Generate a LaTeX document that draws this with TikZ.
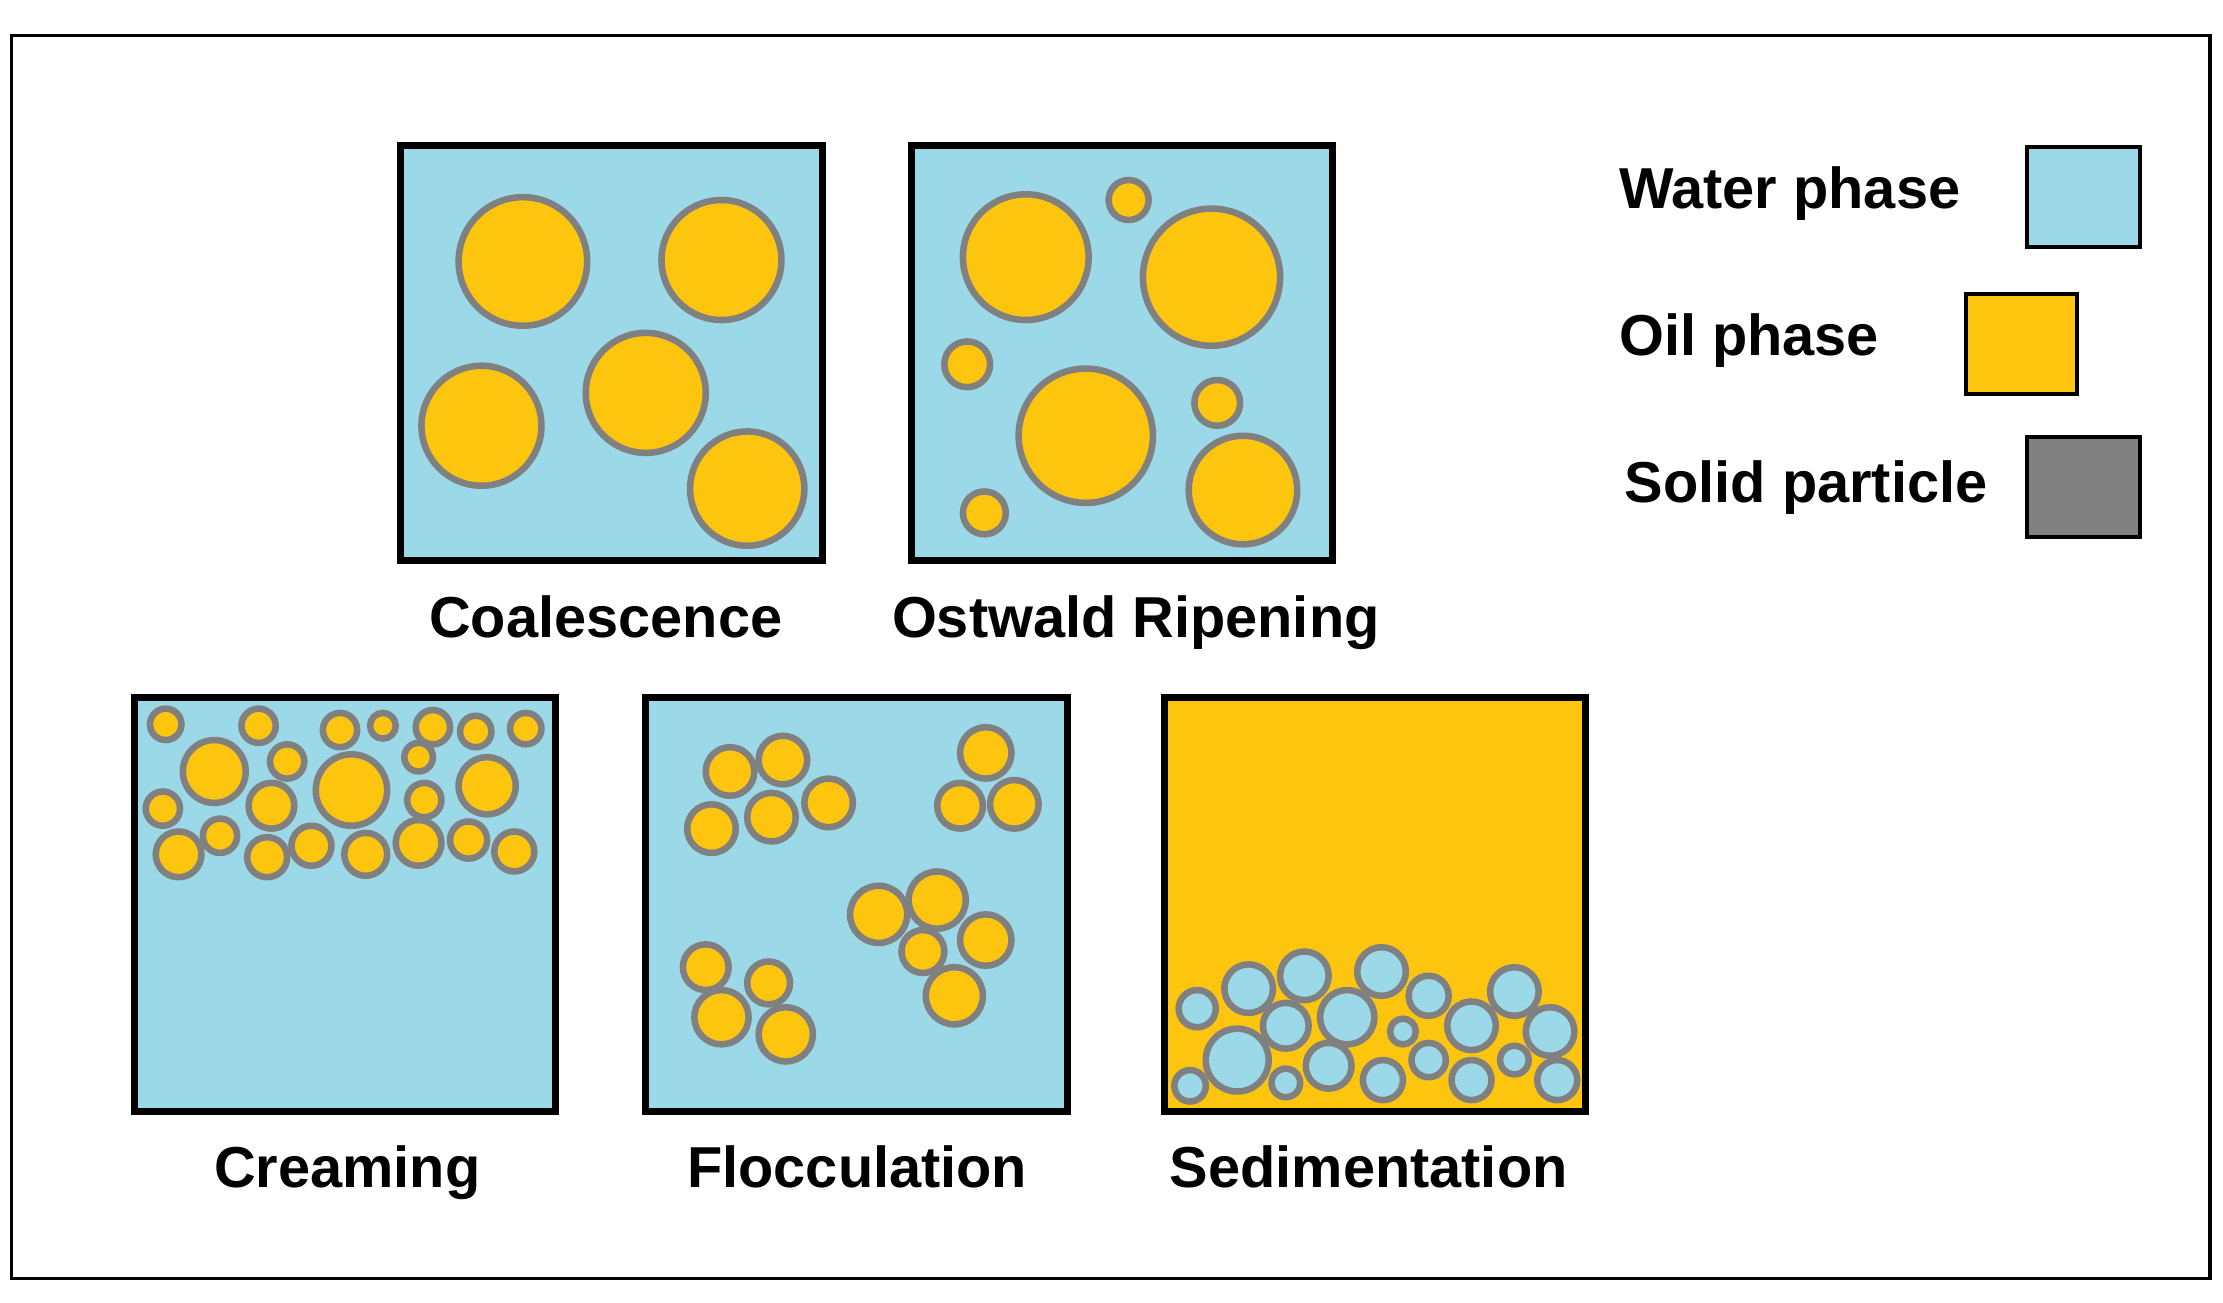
\documentclass[tikz,border=0pt]{standalone}
\usepackage{fontspec}
\setmainfont{Liberation Sans}
\begin{document}
\definecolor{wat}{RGB}{155,216,232}
\definecolor{oil}{RGB}{253,197,14}
\definecolor{sol}{RGB}{128,128,128}
\begin{tikzpicture}[x=0.02cm,y=-0.02cm,
 box/.style={draw=black,line width=2.8pt},
 drop/.style={draw=sol,line width=2.6pt,fill=oil},
 bub/.style={draw=sol,line width=2.6pt,fill=wat},
 lab/.style={font=\fontsize{23}{28}\selectfont\bfseries,inner sep=0pt,anchor=base}]
\def\C#1#2#3{\draw[drop] (#1,#2) circle[radius=#3*0.02cm];}
\def\B#1#2#3{\draw[bub] (#1,#2) circle[radius=#3*0.02cm];}
\fill[white] (0,0) rectangle (1556,912);
\draw[line width=1.4pt] (8,25) rectangle (1547,895);
% Coalescence
\fill[wat] (280,102) rectangle (576,392);
\C{366}{183}{45}\C{505}{182}{42}\C{337}{298}{42}\C{452}{275}{42}\C{523}{342}{40}
\draw[box] (280,102) rectangle (576,392);
\node[lab] (t1) at (424,446) {Coalescence};
% Ostwald
\fill[wat] (638,102) rectangle (933,392);
\C{718}{180}{44}\C{790}{140}{14}\C{848}{194}{48}\C{677}{255}{16}\C{760}{305}{47}\C{852}{282}{16}\C{870}{343}{38}\C{689}{359}{15}
\draw[box] (638,102) rectangle (933,392);
\node[lab] (t2) at (795,446) {Ostwald Ripening};
% Creaming
\fill[wat] (94,488) rectangle (389,778);
\C{116}{507}{11}\C{181}{508}{12}\C{238}{511}{12}\C{268}{508}{9}\C{303}{509}{12}\C{333}{512}{11}\C{368}{510}{11}
\C{150}{540}{22}\C{201}{533}{12}\C{246}{553}{25}\C{293}{530}{10}\C{341}{550}{20}\C{114}{566}{12}\C{190}{564}{16}\C{297}{560}{12}
\C{154}{585}{12}\C{125}{598}{16}\C{187}{600}{14}\C{218}{592}{14}\C{256}{598}{15}\C{293}{590}{16}\C{328}{588}{13}\C{360}{596}{14}
\draw[box] (94,488) rectangle (389,778);
\node[lab] (t3) at (243,831) {Creaming};
% Flocculation
\fill[wat] (452,488) rectangle (747,778);
\C{511}{540}{17}\C{548}{532}{17}\C{540}{572}{17}\C{580}{562}{17}\C{498}{580}{17}
\C{690}{527}{18}\C{672}{564}{16}\C{710}{563}{17}
\C{615}{640}{20}\C{656}{630}{20}\C{690}{658}{18}\C{646}{666}{15}\C{668}{697}{20}
\C{494}{677}{16}\C{538}{688}{15}\C{505}{712}{19}\C{550}{724}{19}
\draw[box] (452,488) rectangle (747,778);
\node[lab] (t4) at (600,831) {Flocculation};
% Sedimentation
\fill[oil] (815,488) rectangle (1110,778);
\begin{scope}
\clip (815,488) rectangle (1110,778);
\B{838}{706}{13}\B{874}{692}{17}\B{913}{683}{17}\B{967}{680}{17}\B{1000}{697}{14}\B{1060}{694}{17}
\B{900}{718}{16}\B{943}{712}{19}\B{1030}{718}{17}\B{1085}{722}{17}\B{866}{742}{22}\B{930}{746}{16}
\B{982}{722}{9}\B{1000}{742}{12}\B{1060}{742}{10}\B{968}{756}{14}\B{1030}{756}{14}\B{1090}{756}{14}\B{833}{760}{11}\B{900}{758}{10}
\end{scope}
\draw[box] (815,488) rectangle (1110,778);
\node[lab] (t5) at (958,831) {Sedimentation};
% legend
\node[lab,anchor=base west] (l1) at (1133,146) {Water phase};
\draw[fill=wat,line width=1.6pt] (1419,103) rectangle (1498,173);
\node[lab,anchor=base west] (l2) at (1133,249) {Oil phase};
\draw[fill=oil,line width=1.6pt] (1376,206) rectangle (1454,276);
\node[lab,anchor=base west] (l3) at (1137,352) {Solid particle};
\draw[fill=sol,line width=1.6pt] (1419,306) rectangle (1498,376);
\end{tikzpicture}
\end{document}
